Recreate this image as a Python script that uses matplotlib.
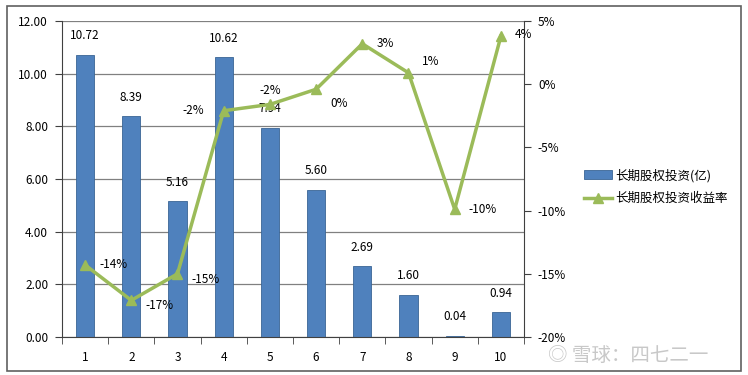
import matplotlib
matplotlib.use("Agg")
import matplotlib.pyplot as plt
from matplotlib.patches import Rectangle
from matplotlib.lines import Line2D
from matplotlib.ticker import FixedLocator, FuncFormatter

plt.rcParams['font.family'] = ['Noto Sans CJK SC', 'DejaVu Sans']

categories = ["1", "2", "3", "4", "5", "6", "7", "8", "9", "10"]
investment = [10.72, 8.39, 5.16, 10.62, 7.94, 5.60, 2.69, 1.60, 0.04, 0.94]
returns = [-14.3, -17.1, -15.0, -2.1, -1.6, -0.4, 3.2, 0.9, -9.9, 3.8]
return_labels = ["-14%", "-17%", "-15%", "-2%", "-2%", "0%", "3%", "1%", "-10%", "4%"]
bar_label = "长期股权投资(亿)"
line_label = "长期股权投资收益率"

# label offsets in points (style)
line_offsets = [(10, 0), (10, -4), (10, -4), (-14, 0), (0, 10),
                (10, -10), (10, 0), (10, 8), (10, 0), (10, 1)]

W, H = 748, 375
fig = plt.figure(figsize=(W / 100, H / 100), dpi=100)
fig.patches.append(Rectangle((7 / W, 4 / H), 734 / W, 365 / H, transform=fig.transFigure,
                             fill=False, edgecolor='#606060', linewidth=1.2))

left, right, top, bottom = 62, 524, 21, 337
ax = fig.add_axes([left / W, 1 - bottom / H, (right - left) / W, (bottom - top) / H])
x = list(range(len(categories)))
ax.bar(x, investment, width=0.39, color='#4F81BD', edgecolor='#3A6595', linewidth=0.6, zorder=2)
ax.set_xlim(-0.5, len(categories) - 0.5)
ax.set_ylim(0, 12)
ax.set_yticks([0, 2, 4, 6, 8, 10, 12])
ax.yaxis.set_major_formatter(FuncFormatter(lambda v, p: f"{v:.2f}"))
ax.set_xticks(x)
ax.set_xticklabels(categories)
ax.xaxis.set_minor_locator(FixedLocator([i - 0.5 for i in range(len(categories) + 1)]))
ax.tick_params(axis='x', which='major', length=0, pad=10, labelsize=8.5)
ax.tick_params(axis='x', which='minor', length=5, direction='out', color='#404040')
ax.tick_params(axis='y', length=5, direction='out', labelsize=8.5, pad=5, color='#404040')
ax.grid(axis='y', color='#808080', linewidth=0.9, zorder=0)
ax.set_axisbelow(True)
for s in ['top', 'right']:
    ax.spines[s].set_visible(False)
ax.spines['left'].set_color('#404040')
ax.spines['bottom'].set_color('#404040')

for xi, v in zip(x, investment):
    ax.annotate(f"{v:.2f}", (xi, v), xytext=(0, 9), textcoords='offset points',
                ha='center', va='bottom', fontsize=8.5)

ax2 = ax.twinx()
ax2.plot(x, returns, color='#9BBB59', linewidth=2.5, marker='^', markersize=7,
         markerfacecolor='#9BBB59', markeredgecolor='#9BBB59', zorder=3)
ax2.set_ylim(-20, 5)
ax2.set_yticks([-20, -15, -10, -5, 0, 5])
ax2.yaxis.set_major_formatter(FuncFormatter(lambda v, p: f"{int(v)}%"))
ax2.tick_params(axis='y', length=5, direction='out', labelsize=8.5, pad=5, color='#404040')
for s in ['top', 'left', 'bottom']:
    ax2.spines[s].set_visible(False)
ax2.spines['right'].set_color('#404040')

for xi, v, lab, off in zip(x, returns, return_labels, line_offsets):
    ax2.annotate(lab, (xi, v), xytext=off, textcoords='offset points',
                 ha='left' if off[0] > 0 else ('right' if off[0] < 0 else 'center'),
                 va='center', fontsize=8.5)

handles = [Rectangle((0, 0), 1, 1, facecolor='#4F81BD', edgecolor='#3A6595', linewidth=0.6),
           Line2D([], [], color='#9BBB59', linewidth=2.5, marker='^', markersize=7)]
fig.legend(handles, [bar_label, line_label], loc='center left',
           bbox_to_anchor=(573 / W, 1 - 187 / H), frameon=False, fontsize=9,
           handlelength=2.2, handletextpad=0.3, labelspacing=0.8)

fig.text(548 / W, 1 - 355 / H, "◎ 雪球：四七二一", fontsize=14, color='#C8C8C8',
         ha='left', va='center', zorder=10)

fig.savefig("out.png", dpi=100)
